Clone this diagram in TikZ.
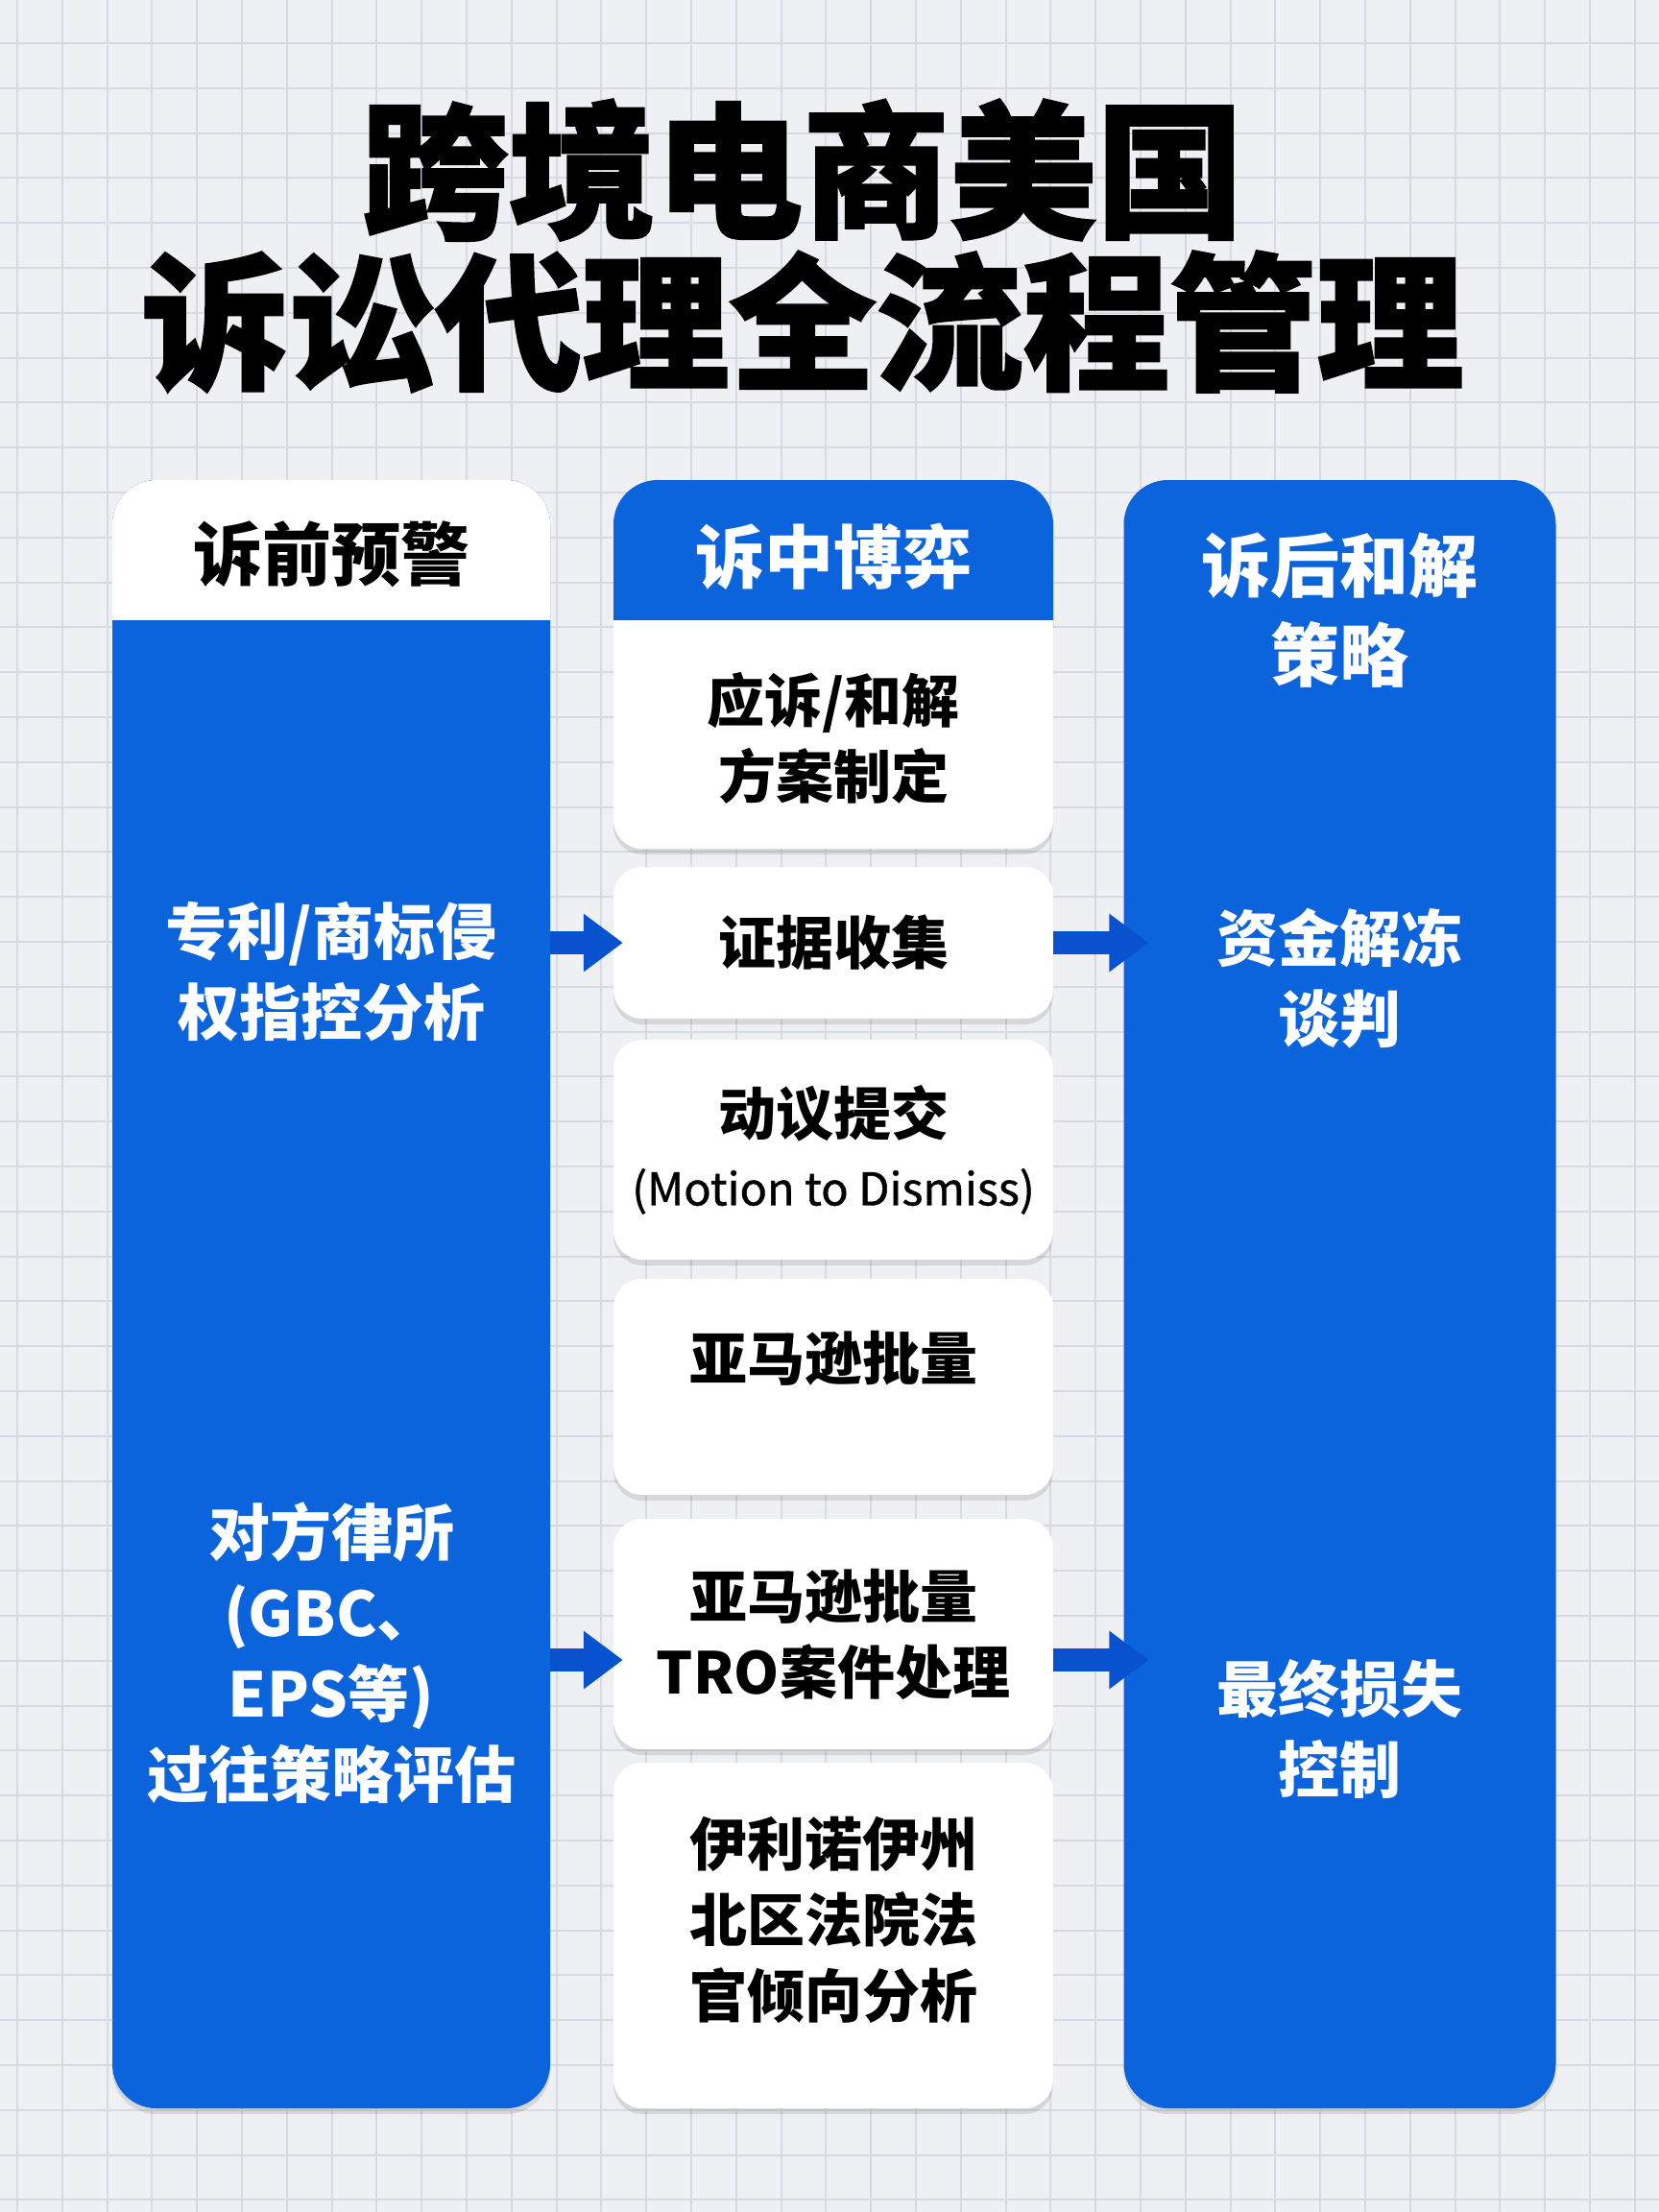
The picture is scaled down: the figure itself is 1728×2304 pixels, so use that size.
\documentclass[tikz,border=0pt]{standalone}
\usepackage{fontspec}
\setmainfont{Noto Sans CJK SC}
\newfontfamily\heavyfont{Noto Sans CJK SC}[FakeBold=1.6]
\newfontfamily\medfont{Noto Sans CJK SC}[FakeBold=0.9]
\usetikzlibrary{arrows.meta,shadows}
\definecolor{bgcol}{RGB}{238,240,244}
\definecolor{gridcol}{RGB}{214,218,226}
\definecolor{cblue}{RGB}{12,100,220}
\definecolor{arrblue}{RGB}{8,82,208}
\begin{document}
\begin{tikzpicture}[x=1pt, y=-1pt,
    colbox/.style={fill=cblue, rounded corners=46, minimum width=#1, minimum height=1696, inner sep=0},
    card/.style={fill=white, rounded corners=30, minimum width=458, minimum height=#1, inner sep=0,
      drop shadow={shadow xshift=0pt, shadow yshift=-6pt, opacity=0.10, fill=black}},
    hdtext/.style={font=\bfseries\fontsize{72}{92}\selectfont, align=center},
    coltext/.style={font=\bfseries\fontsize{64}{84}\selectfont, align=center, text=white},
    cardtext/.style={font=\bfseries\fontsize{60}{79}\selectfont, align=center},
    bigarrow/.style={line width=24, draw=arrblue, -{Triangle[length=41pt, width=58pt]}}]
  % BACKGROUND
  \useasboundingbox (0,0) rectangle (1728,2304);
  \fill[bgcol] (0,0) rectangle (1728,2304);
  % -- grid
  \foreach \gx in {18,64.8,...,1728}
    \draw[gridcol, line width=2] (\gx,0) -- (\gx,2304);
  \foreach \gy in {45,91.8,...,2304}
    \draw[gridcol, line width=2] (0,\gy) -- (1728,\gy);
  % TITLE
  \node[font=\heavyfont\bfseries\fontsize{153}{158}\selectfont, align=center] (title) at (836,256)
    {跨境电商美国\\诉讼代理全流程管理};
  % LEFT COLUMN
  \node[colbox=456, drop shadow={shadow xshift=0pt, shadow yshift=-6pt, opacity=0.10, fill=black}] (pre) at (345,1348) {};
  \node[fill=white, rounded corners=46, minimum width=456, minimum height=200, inner sep=0] (prehd) at (345,600) {};
  \fill[cblue] (117,646) rectangle (573,712);
  \node[hdtext] (prehdtxt) at (345,577) {诉前预警};
  \node[coltext] (prea) at (345,1012) {专利/商标侵\\权指控分析};
  \node[coltext] (preb) at (345,1722) {对方律所\\(GBC、\\EPS等)\\过往策略评估};
  % MIDDLE COLUMN
  % -- header and first card
  \node[colbox=458, minimum height=200] (midhd) at (868,600) {};
  \node[card=238] (plan) at (868,765) {};
  \fill[white] (639,646) rectangle (1097,700);
  \node[hdtext, text=white] (midhdtxt) at (868,580) {诉中博弈};
  \node[cardtext] (plantxt) at (868,769) {应诉/和解\\方案制定};
  % -- cards
  \node[card=158, cardtext] (ev) at (868,982) {证据收集};
  \node[card=229, cardtext] (mot) at (868,1197.5) {动议提交\\[-6pt]{\medfont\mdseries\fontsize{47}{56}\selectfont (Motion to Dismiss)}};
  \node[card=225] (amz) at (868,1444.5) {};
  \node[cardtext] (amztxt) at ([yshift=30]amz.center) {亚马逊批量};
  \node[card=240, cardtext] (tro) at (868,1702) {亚马逊批量\\TRO案件处理};
  \node[card=360] (ilnd) at (868,2016) {};
  \node[cardtext] (ilndtxt) at ([yshift=16]ilnd.center) {伊利诺伊州\\北区法院法\\官倾向分析};
  % RIGHT COLUMN
  \node[colbox=450, drop shadow={shadow xshift=0pt, shadow yshift=-6pt, opacity=0.10, fill=black}] (post) at (1395.5,1348) {};
  \node[hdtext, text=white, font=\bfseries\fontsize{72}{93}\selectfont] (posthdtxt) at (1395,636) {诉后和解\\策略};
  \node[coltext] (posta) at (1395,1019) {资金解冻\\谈判};
  \node[coltext] (postb) at (1395,1801) {最终损失\\控制};
  % ARROWS
  \coordinate (rowa) at (0,982);
  \coordinate (rowb) at (0,1729);
  \draw[bigarrow] (pre.east |- rowa) -- ([xshift=10]ev.west |- rowa);
  \draw[bigarrow] (pre.east |- rowb) -- ([xshift=10]tro.west |- rowb);
  \draw[bigarrow] (ev.east |- rowa) -- ([xshift=26]post.west |- rowa);
  \draw[bigarrow] (tro.east |- rowb) -- ([xshift=26]post.west |- rowb);
\end{tikzpicture}
\end{document}
